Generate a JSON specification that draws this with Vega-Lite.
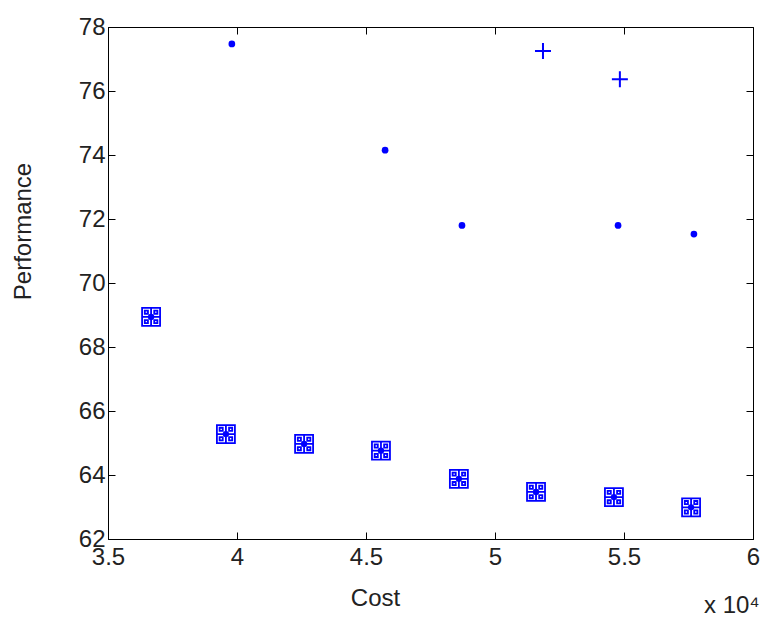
{
  "$schema": "https://vega.github.io/schema/vega-lite/v6.json",
  "width": 645,
  "height": 512,
  "autosize": {"type": "none"},
  "padding": {"left": 108, "top": 27, "right": 8, "bottom": 85},
  "background": "white",
  "config": {
    "view": {"stroke": "black", "strokeWidth": 1},
    "font": "Liberation Sans",
    "axis": {
      "grid": false,
      "domainColor": "black",
      "tickColor": "black",
      "labelColor": "#222",
      "titleColor": "#222",
      "labelFont": "Liberation Sans",
      "titleFont": "Liberation Sans",
      "labelFontSize": 24,
      "titleFontSize": 24,
      "titleFontWeight": "normal",
      "tickSize": -7
    }
  },
  "title": {
    "text": "x 10⁴",
    "orient": "bottom",
    "anchor": "end",
    "fontSize": 24,
    "fontWeight": "normal",
    "font": "Liberation Sans",
    "color": "#222",
    "offset": -16
  },
  "data": {
    "values": [
      {"cost": 39800, "perf": 77.47, "group": "dot"},
      {"cost": 45740, "perf": 74.15, "group": "dot"},
      {"cost": 48720, "perf": 71.8, "group": "dot"},
      {"cost": 54770, "perf": 71.8, "group": "dot"},
      {"cost": 57710, "perf": 71.53, "group": "dot"},
      {"cost": 51860, "perf": 77.25, "group": "plus"},
      {"cost": 54840, "perf": 76.37, "group": "plus"},
      {"cost": 36670, "perf": 68.94, "group": "square"},
      {"cost": 39570, "perf": 65.28, "group": "square"},
      {"cost": 42600, "perf": 64.97, "group": "square"},
      {"cost": 45580, "perf": 64.76, "group": "square"},
      {"cost": 48600, "perf": 63.88, "group": "square"},
      {"cost": 51590, "perf": 63.47, "group": "square"},
      {"cost": 54610, "perf": 63.31, "group": "square"},
      {"cost": 57600, "perf": 62.99, "group": "square"}
    ]
  },
  "resolve": {"axis": {"x": "independent", "y": "independent"}},
  "layer": [
    {
      "transform": [{"filter": "datum.group === 'dot'"}],
      "mark": {"type": "point", "shape": "circle", "filled": true, "color": "#0000ff", "size": 45, "opacity": 1},
      "encoding": {
        "x": {
          "field": "cost", "type": "quantitative",
          "scale": {"domain": [35000, 60000], "nice": false, "zero": false},
          "axis": {"title": "Cost", "values": [35000, 40000, 45000, 50000, 55000, 60000], "labelExpr": "datum.value / 10000", "labelPadding": 13, "titleX": 267, "titleY": 59, "titleBaseline": "middle", "titleAlign": "center", "labelFlush": false}
        },
        "y": {
          "field": "perf", "type": "quantitative",
          "scale": {"domain": [62, 78], "nice": false, "zero": false},
          "axis": {"title": "Performance", "values": [62, 64, 66, 68, 70, 72, 74, 76, 78], "labelPadding": 10, "titleX": -85, "titleY": 204, "titleBaseline": "middle", "titleAlign": "center", "titleAngle": -90, "labelFlush": false}
        }
      }
    },
    {
      "transform": [{"filter": "datum.group === 'plus'"}],
      "mark": {"type": "point", "shape": "M-1,0L1,0M0,-1L0,1", "filled": false, "color": "#0000ff", "strokeWidth": 2, "size": 256, "opacity": 1},
      "encoding": {
        "x": {"field": "cost", "type": "quantitative", "axis": {"orient": "top", "labels": false, "title": null, "domain": false, "values": [35000, 40000, 45000, 50000, 55000, 60000]}},
        "y": {"field": "perf", "type": "quantitative", "axis": {"orient": "right", "labels": false, "title": null, "domain": false, "values": [62, 64, 66, 68, 70, 72, 74, 76, 78]}}
      }
    },
    {
      "transform": [{"filter": "datum.group === 'square'"}],
      "mark": {"type": "point", "shape": "M-1,-1H1V1H-1Z M0,-1V1 M-1,0H1 M0.35,0.35H0.7V0.7H0.35Z M-0.35,0.35H-0.7V0.7H-0.35Z M0.35,-0.35H0.7V-0.7H0.35Z M-0.35,-0.35H-0.7V-0.7H-0.35Z", "filled": false, "color": "#0000ff", "strokeWidth": 1.8, "size": 324, "opacity": 1},
      "encoding": {
        "x": {"field": "cost", "type": "quantitative", "axis": null},
        "y": {"field": "perf", "type": "quantitative", "axis": null}
      }
    },
    {
      "transform": [{"filter": "datum.group === 'square'"}],
      "mark": {"type": "point", "shape": "circle", "filled": true, "color": "#0000ff", "size": 40, "opacity": 1},
      "encoding": {
        "x": {"field": "cost", "type": "quantitative", "axis": null},
        "y": {"field": "perf", "type": "quantitative", "axis": null}
      }
    }
  ]
}
